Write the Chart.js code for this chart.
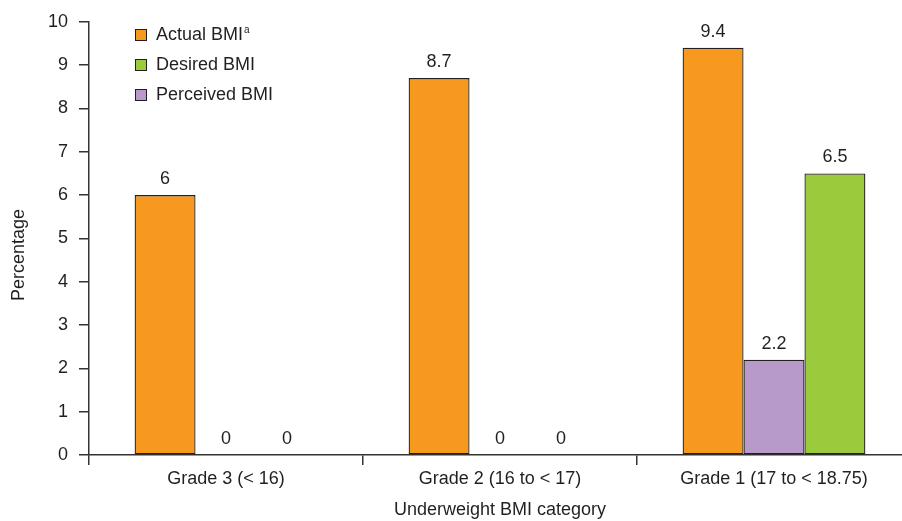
<!DOCTYPE html>
<html>
<head>
<meta charset="utf-8">
<script src="https://cdn.jsdelivr.net/npm/chart.js@4.4.1/dist/chart.umd.min.js"></script>
<style>
  html, body { margin: 0; padding: 0; background: #fff; overflow: hidden; }
  #wrap { position: absolute; left: 0; top: 0; width: 920px; height: 521px; }
</style>
</head>
<body>
<div id="wrap"><canvas id="chart"></canvas></div>
<script>
const categories = ['Grade 3 (< 16)', 'Grade 2 (16 to < 17)', 'Grade 1 (17 to < 18.75)'];
const actualBMI = [6, 8.7, 9.4];
const perceivedBMI = [0, 0, 2.2];
const desiredBMI = [0, 0, 6.5];
const yTicks = [0, 1, 2, 3, 4, 5, 6, 7, 8, 9, 10];
const legendOrder = [0, 2, 1];

const TEXT = '#231f20';
const AXIS = '#333333';
const FONT = 'Arial, "Liberation Sans", Helvetica, sans-serif';

// value labels above each bar
const valueLabels = {
  id: 'valueLabels',
  afterDatasetsDraw(chart) {
    const ctx = chart.ctx;
    ctx.save();
    ctx.font = '18px ' + FONT;
    ctx.fillStyle = TEXT;
    ctx.textAlign = 'center';
    ctx.textBaseline = 'alphabetic';
    chart.data.datasets.forEach((ds, i) => {
      chart.getDatasetMeta(i).data.forEach((bar, j) => {
        ctx.fillText(String(ds.data[j]), bar.x, bar.y - 11);
      });
    });
    ctx.restore();
  }
};

// legend inside the plot + rotated y title
const sideText = {
  id: 'sideText',
  afterDraw(chart) {
    const ctx = chart.ctx;
    const area = chart.chartArea;
    ctx.save();
    ctx.font = '18px ' + FONT;
    ctx.textBaseline = 'middle';
    ctx.textAlign = 'left';
    legendOrder.forEach((idx, k) => {
      const ds = chart.data.datasets[idx];
      const cy = 34.5 + k * 30;
      const bx = area.left + 46;
      ctx.fillStyle = ds.backgroundColor;
      ctx.fillRect(bx, cy - 5.5, 11, 11);
      ctx.strokeStyle = TEXT;
      ctx.lineWidth = 1;
      ctx.strokeRect(bx + 0.5, cy - 5, 11, 11);
      ctx.fillStyle = TEXT;
      const label = ds.label;
      ctx.font = '18px ' + FONT;
      ctx.fillText(label, bx + 21, cy + 1);
      if (ds.note) {
        const w = ctx.measureText(label).width;
        ctx.font = '10px ' + FONT;
        ctx.fillText(ds.note, bx + 22 + w, cy - 4);
      }
    });
    ctx.font = '18px ' + FONT;
    ctx.translate(19, 255);
    ctx.rotate(-Math.PI / 2);
    ctx.textAlign = 'center';
    ctx.fillText('Percentage', 0, 0);
    ctx.restore();
  }
};

new Chart(document.getElementById('chart'), {
  type: 'bar',
  data: {
    labels: categories,
    datasets: [
      { label: 'Actual BMI', note: 'a', data: actualBMI, backgroundColor: '#f7991f' },
      { label: 'Perceived BMI', data: perceivedBMI, backgroundColor: '#b79ac9' },
      { label: 'Desired BMI', data: desiredBMI, backgroundColor: '#9bcb3c' }
    ].map(d => Object.assign(d, { borderColor: TEXT, borderWidth: 1.3, borderSkipped: false }))
  },
  options: {
    responsive: true,
    maintainAspectRatio: false,
    animation: false,
    categoryPercentage: 0.667,
    barPercentage: 1.0,
    layout: { padding: { top: 19, right: 9, left: 0, bottom: 0 } },
    plugins: {
      legend: { display: false },
      tooltip: { enabled: false }
    },
    scales: {
      x: {
        grid: { drawOnChartArea: false, drawTicks: true, tickLength: 10, color: AXIS, lineWidth: 1.5, offset: true },
        border: { color: AXIS, width: 1.5 },
        ticks: { color: TEXT, font: { family: FONT, size: 18 }, padding: 3, maxRotation: 0 },
        title: { display: true, text: 'Underweight BMI category', color: TEXT, font: { family: FONT, size: 18 }, padding: { top: 1, bottom: 0 } },
        afterFit(scale) { scale.height = 66; }
      },
      y: {
        min: 0,
        max: 10,
        afterBuildTicks(scale) { scale.ticks = yTicks.map(v => ({ value: v })); },
        grid: { drawOnChartArea: false, drawTicks: true, tickLength: 10, color: AXIS, lineWidth: 1.5 },
        border: { color: AXIS, width: 1.5 },
        ticks: { color: TEXT, font: { family: FONT, size: 18 }, padding: 11 },
        afterFit(scale) { scale.width = 89; }
      }
    }
  },
  plugins: [valueLabels, sideText]
});
</script>
</body>
</html>
